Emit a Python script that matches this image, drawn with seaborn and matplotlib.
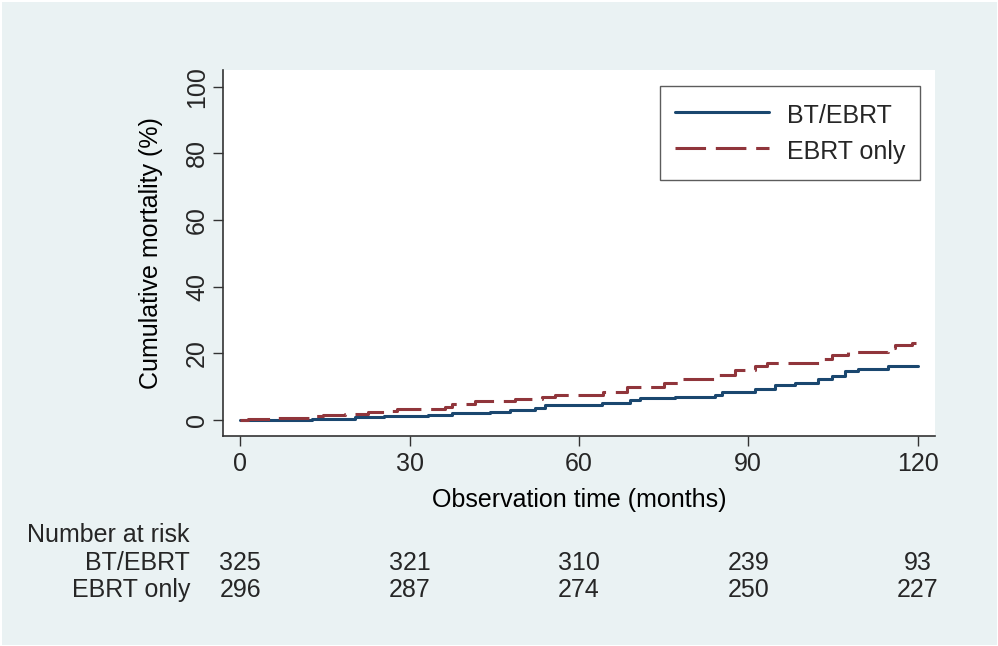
import numpy as np
import pandas as pd
import matplotlib
matplotlib.use("Agg")
import matplotlib.pyplot as plt
import matplotlib.transforms as mtransforms
import seaborn as sns

# ---- data ----
bt_time = [0, 12.7, 20.3, 25.4, 33.3, 37.5, 44.3, 47.8, 52.2, 54.0, 64.1, 69.0, 70.8,
           77.0, 84.1, 85.3, 91.2, 94.7, 98.3, 102.4, 104.8, 107.2, 109.5, 114.8, 120.0]
bt_cum = [0, 0.4, 0.9, 1.2, 1.5, 2.1, 2.5, 3.0, 3.6, 4.4, 5.1, 6.1, 6.6,
          6.9, 7.6, 8.3, 9.3, 10.4, 11.1, 12.2, 13.2, 14.6, 15.4, 16.1, 16.1]

ebrt_time = [0, 1.4, 6.2, 12.7, 14.7, 18.6, 22.7, 25.6, 27.8, 36.3, 37.5, 41.6, 48.7,
             53.4, 55.8, 64.3, 68.5, 75.0, 78.2, 84.7, 87.7, 91.2, 93.3, 103.0, 104.8,
             107.7, 114.8, 116.0, 119.0, 119.8]
ebrt_cum = [0, 0.3, 0.7, 1.2, 1.5, 1.8, 2.3, 2.8, 3.2, 4.0, 4.7, 5.7, 6.3,
            6.8, 7.4, 8.3, 9.9, 11.1, 12.2, 13.6, 15.1, 16.2, 17.0, 18.3, 19.4,
            20.4, 21.5, 22.4, 23.2, 23.2]

groups = ["BT/EBRT", "EBRT only"]
risk_times = [0, 30, 60, 90, 120]
risk_bt = [325, 321, 310, 239, 93]
risk_ebrt = [296, 287, 274, 250, 227]
x_ticks = [0, 30, 60, 90, 120]
y_ticks = [0, 20, 40, 60, 80, 100]

df = pd.concat([
    pd.DataFrame({"time": bt_time, "cum": bt_cum, "group": groups[0]}),
    pd.DataFrame({"time": ebrt_time, "cum": ebrt_cum, "group": groups[1]}),
], ignore_index=True)

# ---- style ----
sns.set_theme(style="white")
plt.rcParams["font.family"] = ["Liberation Sans", "DejaVu Sans"]
FS = 18
BG = "#EAF2F3"
BLUE = "#1A476F"
RED = "#90353B"

fig = plt.figure(figsize=(9.98, 6.46), dpi=100)
fig.patch.set_facecolor(BG)
fig.patch.set_edgecolor("white")
fig.patch.set_linewidth(2)
ax = fig.add_axes([0.2234, 0.3255, 0.9369 - 0.2234, 0.8916 - 0.3255])
ax.set_facecolor("white")

sns.lineplot(data=df, x="time", y="cum", hue="group", style="group",
             hue_order=groups, style_order=groups,
             palette={groups[0]: BLUE, groups[1]: RED},
             dashes={groups[0]: "", groups[1]: (10, 3.2)},
             estimator=None, sort=True, drawstyle="steps-post",
             linewidth=2.2, ax=ax)

ax.set_xlim(-3.07, 123.1)
ax.set_ylim(-4.7, 105)
ax.set_xticks(x_ticks)
ax.set_yticks(y_ticks)
ax.set_xticklabels([str(v) for v in x_ticks], fontsize=FS)
ax.set_yticklabels([str(v) for v in y_ticks], fontsize=FS, rotation=90, va="center")
ax.tick_params(axis="both", direction="out", length=7, width=1.0, color="#333333",
               bottom=True, left=True)
ax.tick_params(axis="x", pad=5)
ax.tick_params(axis="y", pad=3)
ax.set_xlabel("Observation time (months)", fontsize=FS, labelpad=8, color="black")
ax.set_ylabel("Cumulative mortality (%)", fontsize=FS, labelpad=16, color="black")
for s in ["top", "right"]:
    ax.spines[s].set_visible(False)
for s in ["left", "bottom"]:
    ax.spines[s].set_color("#333333")
    ax.spines[s].set_linewidth(1.2)

handles, labels = ax.get_legend_handles_labels()
leg = ax.legend(handles, labels, loc="upper right", bbox_to_anchor=(0.979, 0.956),
                borderaxespad=0, fontsize=FS, handlelength=3.75, handletextpad=0.72,
                handleheight=1.35, frameon=True, fancybox=False, edgecolor="#333333",
                borderpad=0.6, labelspacing=0.3)
leg.get_frame().set_linewidth(1.0)

# ---- number at risk table ----
trans = mtransforms.blended_transform_factory(ax.transData, fig.transFigure)
fig.text(27 / 998, 1 - 535 / 646, "Number at risk", fontsize=FS, ha="left", va="center")
fig.text(190 / 998, 1 - 563 / 646, groups[0], fontsize=FS, ha="right", va="center")
fig.text(190 / 998, 1 - 590 / 646, groups[1], fontsize=FS, ha="right", va="center")
for t, a, b in zip(risk_times, risk_bt, risk_ebrt):
    ax.text(t, 1 - 563 / 646, str(a), transform=trans, fontsize=FS, ha="center", va="center")
    ax.text(t, 1 - 590 / 646, str(b), transform=trans, fontsize=FS, ha="center", va="center")

fig.savefig("out.png", dpi=100, facecolor=fig.get_facecolor(), edgecolor="white")
